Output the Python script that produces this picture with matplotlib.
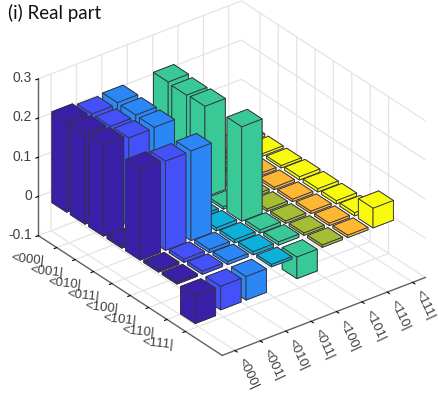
"""Density matrix bars, real part."""
import matplotlib

matplotlib.use("Agg")
import matplotlib.pyplot as plt
import numpy as np

plt.rcParams["font.family"] = "Liberation Sans"

# rows run along the left axis, columns along the right axis
states = ["<000|", "<001|", "<010|", "<011|", "<100|", "<101|", "<110|", "<111|"]
z_ticks = [-0.1, 0, 0.1, 0.2, 0.3]
z_tick_labels = ["-0.1", "0", "0.1", "0.2", "0.3"]
column_colors = ["#3a1fa8", "#4450f8", "#2b86f6", "#0db0d8", "#38c996", "#a5bd32", "#fdb733", "#f9fb0e"]
real_part = [
    [0.232, 0.226, 0.230, 0.006, 0.233, 0.006, 0.006, 0.006],
    [0.232, 0.225, 0.229, 0.006, 0.230, 0.006, 0.006, 0.006],
    [0.233, 0.226, 0.228, 0.006, 0.232, 0.006, 0.006, 0.006],
    [0.008, 0.006, 0.006, 0.006, 0.006, 0.006, 0.006, 0.008],
    [0.232, 0.228, 0.229, 0.008, 0.241, 0.006, 0.006, 0.008],
    [0.006, 0.008, 0.008, 0.008, 0.008, 0.006, 0.006, 0.008],
    [0.006, 0.008, 0.008, 0.008, 0.008, 0.006, 0.006, 0.008],
    [-0.070, -0.060, -0.060, 0.006, -0.055, 0.006, 0.006, 0.050],
]

fig = plt.figure(figsize=(4.39, 3.95), dpi=100)
ax = fig.add_axes([7 / 439, 14 / 395, 1, 1], projection="3d", proj_type="ortho", computed_zorder=False)
ax.view_init(elev=30, azim=-127.5)
ax.set_box_aspect((256, 302, 181), zoom=1.07)

width = 0.8
n = len(states)
values = np.array(real_part)
# painter's order: back rows first, far columns first
order = 0
for i in range(n):
    for j in reversed(range(n)):
        ax.bar3d(
            j + 1 - width / 2, 9 - i - width / 2, 0, width, width, values[i, j],
            color=column_colors[j], edgecolor="#33333f", linewidth=0.6, shade=False, zorder=order + 5,
        )
        order += 1

ax.set_xlim(0.5, n + 0.5)
ax.set_ylim(0, n + 2)
ax.set_zlim(z_ticks[0], z_ticks[-1])

ax.set_xticks(np.arange(n) + 1, states, rotation=-65, rotation_mode="anchor", ha="left", va="center",
              fontsize=9.5, color="#404040")
ax.set_yticks(9 - np.arange(n), states, rotation=-6, rotation_mode="anchor", ha="right", va="center",
              fontsize=9.5, color="#404040")
ax.set_zticks(z_ticks, z_tick_labels, ha="right", va="center", fontsize=10, color="#404040")
ax.tick_params(axis="x", pad=-3.5)
ax.tick_params(axis="y", pad=1)
ax.tick_params(axis="z", pad=-5.5)

for axis in (ax.xaxis, ax.yaxis, ax.zaxis):
    axis.set_pane_color((1, 1, 1, 0))
    axis.pane.set_edgecolor("none")
    axis.line.set_color("#606060")
    axis.line.set_linewidth(1.0)
    axis._axinfo["grid"].update(color="#e4e4e4", linewidth=0.9)
    axis._axinfo["tick"].update(color="#606060", inward_factor=0.15, outward_factor=0.0)

fig.text(0.018, 0.966, "(i) Real part", fontsize=13.5, family="Lato", va="center", color="#111111")

fig.savefig("out.png", dpi=100)
plt.close(fig)
